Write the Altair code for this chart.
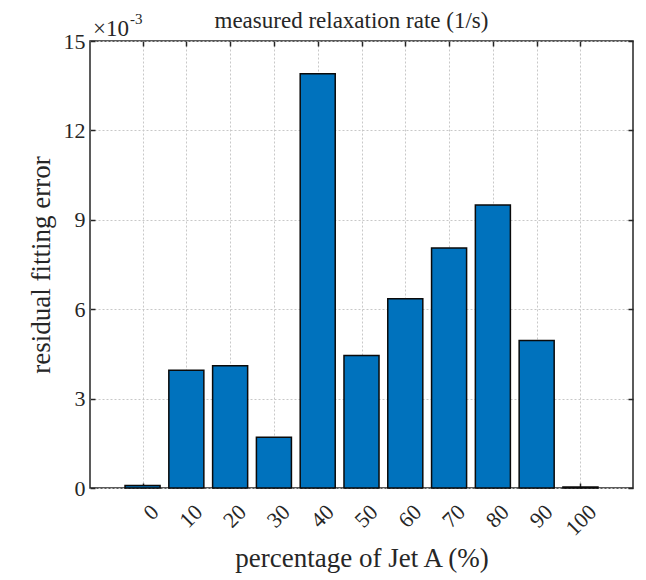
import altair as alt
import pandas as pd

# ---- data (values in units of 1e-3) ----
categories = [0, 10, 20, 30, 40, 50, 60, 70, 80, 90, 100]
errors = [0.08, 3.95, 4.10, 1.70, 13.90, 4.45, 6.35, 8.05, 9.50, 4.95, 0.03]
x_ticks = [0, 10, 20, 30, 40, 50, 60, 70, 80, 90, 100]
y_ticks = [0, 3, 6, 9, 12, 15]
title_text = ["measured relaxation rate (1/s)"]
x_title = "percentage of Jet A (%)"
y_title = "residual fitting error"
exp_base = ["\u00d710"]
exp_power = ["-3"]

df = pd.DataFrame({"pct": categories, "err": errors})

W, H = 543, 447
FONT = "Liberation Serif"
INK = "#262626"
GRID = "#c8c8c8"

xscale = alt.Scale(domain=[-12, 112], nice=False, zero=False)
yscale = alt.Scale(domain=[0, 15], nice=False, zero=True)

base = alt.Chart(df).transform_calculate(x0="datum.pct - 4", x1="datum.pct + 4")

bars = base.mark_bar(color="#0072BD", stroke="#0a0a0a", strokeWidth=1.5).encode(
    x=alt.X(
        "x0:Q", scale=xscale,
        axis=alt.Axis(orient="bottom", values=x_ticks, format="d", title=x_title,
                      labelAngle=-45, labelAlign="right", labelBaseline="middle",
                      labelPadding=20, labelOffset=12, ticks=False, tickSize=0,
                      domain=False, grid=True, gridColor=GRID, gridDash=[2, 2],
                      gridWidth=1, labelFontSize=22, titleFontSize=27,
                      titlePadding=6, labelFlush=False, labelOverlap=False),
    ),
    x2="x1:Q",
    y=alt.Y(
        "err:Q", scale=yscale, stack=None,
        axis=alt.Axis(orient="left", values=y_ticks, format="d", title=y_title,
                      ticks=False, tickSize=0, domain=False, grid=True,
                      gridColor=GRID, gridDash=[2, 2], gridWidth=1,
                      labelPadding=5, labelFontSize=22, titleFontSize=27,
                      titlePadding=8, labelFlush=False, labelOverlap=False),
    ),
    y2=alt.datum(0),
)

# inward ticks on bottom and left
ticks_bl = base.mark_bar(opacity=0).encode(
    x=alt.X("x0:Q", scale=xscale,
            axis=alt.Axis(orient="top", offset=-H, values=x_ticks, labels=False,
                          domain=False, grid=False, ticks=True, tickSize=5,
                          tickColor=INK, tickWidth=1.5, title=None)),
    x2="x1:Q",
    y=alt.Y("err:Q", scale=yscale, stack=None,
            axis=alt.Axis(orient="right", offset=-W, values=y_ticks, labels=False,
                          domain=False, grid=False, ticks=True, tickSize=5,
                          tickColor=INK, tickWidth=1.5, title=None)),
    y2=alt.datum(0),
)

# inward ticks on top and right
ticks_tr = base.mark_bar(opacity=0).encode(
    x=alt.X("x0:Q", scale=xscale,
            axis=alt.Axis(orient="bottom", offset=-H, values=x_ticks, labels=False,
                          domain=False, grid=False, ticks=True, tickSize=5,
                          tickColor=INK, tickWidth=1.5, title=None)),
    x2="x1:Q",
    y=alt.Y("err:Q", scale=yscale, stack=None,
            axis=alt.Axis(orient="left", offset=-W, values=y_ticks, labels=False,
                          domain=False, grid=False, ticks=True, tickSize=5,
                          tickColor=INK, tickWidth=1.5, title=None)),
    y2=alt.datum(0),
)

exp1 = alt.Chart(pd.DataFrame({"t": exp_base})).mark_text(
    align="left", baseline="alphabetic", font=FONT, fontSize=23, color=INK
).encode(x=alt.value(3), y=alt.value(-5), text="t:N")

exp2 = alt.Chart(pd.DataFrame({"t": exp_power})).mark_text(
    align="left", baseline="alphabetic", font=FONT, fontSize=15, color=INK
).encode(x=alt.value(40), y=alt.value(-17), text="t:N")

title = alt.Chart(pd.DataFrame({"t": title_text})).mark_text(
    align="center", baseline="alphabetic", font=FONT, fontSize=23, color=INK
).encode(x=alt.value(W / 2 - 10), y=alt.value(-13), text="t:N")

chart = (
    alt.layer(bars, ticks_bl, ticks_tr, exp1, exp2, title)
    .resolve_axis(x="independent", y="independent")
    .properties(
        width=W, height=H,
        autosize=alt.AutoSizeParams(type="none"),
        padding={"left": 82, "top": 33, "right": 5, "bottom": 92},
        background="white",
    )
    .configure_view(stroke=INK, strokeWidth=1.5)
    .configure_axis(labelFont=FONT, titleFont=FONT, labelColor=INK,
                    titleColor=INK, titleFontWeight="normal")
)

chart.save("out.html", embed_options={"renderer": "svg", "actions": False})
